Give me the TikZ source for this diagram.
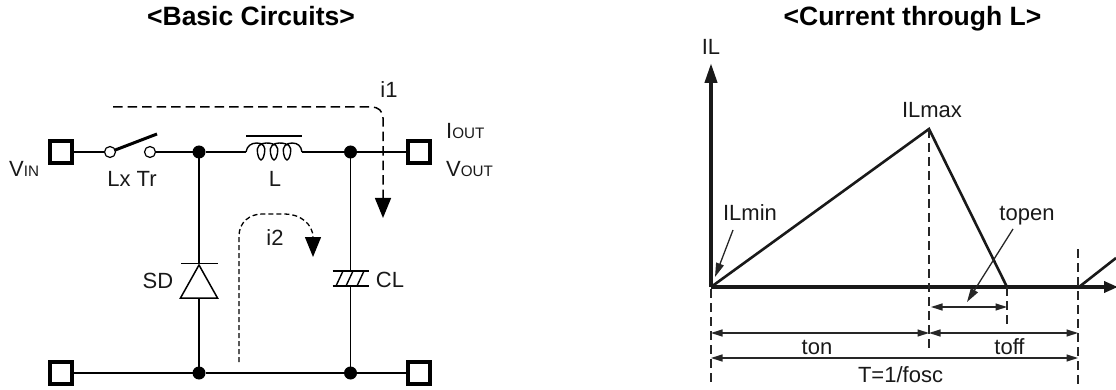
\documentclass[tikz,border=0pt]{standalone}
\usepackage{fontspec}
\setmainfont{Liberation Sans}
\usetikzlibrary{arrows.meta}
\newcommand{\sz}[2]{\fontsize{#1}{#1}\selectfont #2}
\tikzset{
  wire/.style={draw=black,line width=1.6pt},
  term/.style={draw=black,fill=white,line width=3.6pt,minimum size=22pt,inner sep=0pt,outer sep=0pt},
  dot/.style={circle,fill=black,minimum size=13pt,inner sep=0pt,outer sep=0pt},
  swc/.style={circle,draw=black,fill=white,line width=1.2pt,minimum size=11pt,inner sep=0pt,outer sep=0pt},
  lbl/.style={inner sep=0pt,anchor=base,font=\fontsize{22}{22}\selectfont,text=black!90},
  ttl/.style={inner sep=0pt,anchor=base,font=\fontsize{26.5}{26.5}\selectfont\bfseries},
  dashw/.style={draw=black,line width=1.5pt,dash pattern=on 9.5pt off 5pt},
  dashs/.style={draw=black,line width=1.3pt,dash pattern=on 5pt off 3pt},
  bigtip/.style={-{Triangle[length=20pt,width=16pt]}},
  axisl/.style={draw=black!90,line width=4pt},
  curve/.style={draw=black!90,line width=2.6pt},
  dim/.style={draw=black!85,line width=1.3pt,{Triangle[length=11.5pt,width=7pt]}-{Triangle[length=11.5pt,width=7pt]},shorten <=0pt},
  point/.style={draw=black!85,line width=1.3pt,-{Triangle[length=14pt,width=8pt]}},
  vdash/.style={draw=black!85,line width=1.2pt,dash pattern=on 9pt off 5pt},
}
\begin{document}
\begin{tikzpicture}[x=1pt,y=-1pt]
\useasboundingbox (0,0) rectangle (1116,390);
% titles
\node[ttl] (t1) at (251,25.5) {<Basic Circuits>};
\node[ttl] (t2) at (912.5,25.5) {<Current through L>};
% circuit nodes
\node[term] (vin) at (61,152) {};
\node[term] (vout) at (419,152) {};
\node[term] (gl) at (61,373) {};
\node[term] (gr) at (419,373) {};
\node[dot] (j1) at (199,152) {};
\node[dot] (j2) at (350.5,152) {};
\node[dot] (j3) at (199,373) {};
\node[dot] (j4) at (350.5,373) {};
\node[swc] (s1) at (110,152) {};
\node[swc] (s2) at (150,152) {};
\coordinate (la) at (246,152);
\coordinate (lb) at (302,152);
\coordinate (dk) at (199,263);
\coordinate (da) at (199,298);
\coordinate (c1) at (350.5,271);
\coordinate (c2) at (350.5,286);
\coordinate (swtip) at (157,134);
% wires
\draw[wire] (vin) -- (s1);
\draw[wire] (s2) -- (j1);
\draw[wire] (j1) -- (la);
\draw[wire] (lb) -- (j2);
\draw[wire] (j2) -- (vout);
\draw[wire] (gl) -- (j3);
\draw[wire] (j3) -- (j4);
\draw[wire] (j4) -- (gr);
\draw[wire] (j1) -- (dk);
\draw[wire] (da) -- (j3);
\draw[wire] (j2) -- (c1);
\draw[wire] (c2) -- (j4);
% switch lever
\draw[draw=black,line width=3pt] (s1) -- (swtip);
% inductor
\draw[draw=black,line width=1.5pt] (246,136) -- (302,136);
\draw[draw=black,line width=1.4pt] (la) .. controls (247,146) and (251,143) .. (257,143)
  .. controls (263,143) and (266,147) .. (264.5,153) .. controls (263.5,159) and (261.5,160) .. (261,160)
  .. controls (260.5,160) and (258.5,159) .. (257.5,153) .. controls (256,147) and (260,143) .. (266,143)
  .. controls (276,143) and (279,147) .. (277.5,153) .. controls (276.5,159) and (274.5,160) .. (274,160)
  .. controls (273.5,160) and (271.5,159) .. (270.5,153) .. controls (269,147) and (273,143) .. (279,143)
  .. controls (289,143) and (292,147) .. (290.5,153) .. controls (289.5,159) and (287.5,160) .. (287,160)
  .. controls (286.5,160) and (284.5,159) .. (283.5,153) .. controls (282,147) and (286,143) .. (292,143)
  .. controls (298,143) and (301,146) .. (lb);
% diode
\draw[draw=black,line width=1.5pt] (181,263.5) -- (218,263.5);
\draw[draw=black,line width=1.5pt,line join=miter] (199,265) -- (180.5,298) -- (217.5,298) -- cycle;
% capacitor
\draw[draw=black,line width=1.5pt] (332.5,271) -- (369,271) (332.5,286) -- (369,286);
\draw[draw=black,line width=1.4pt] (336,286) -- (343,271) (346,286) -- (353,271) (357,286) -- (364,271);
% current paths
\draw[dashw,bigtip] (113,107) -- (372,107) .. controls (378,107) and (383,111) .. (383,118) -- (383,218);
\draw[dashs,bigtip] (239,362) -- (239,236) .. controls (239,222) and (250,214) .. (262,214) -- (285,214) .. controls (300,214) and (313,224) .. (313,257);
% circuit labels
\node[lbl] (lsw) at (132,186) {Lx Tr};
\node[lbl] (ll) at (275,186) {L};
\node[lbl] (li1) at (389,98) {i1};
\node[lbl] (li2) at (275,245) {i2};
\node[lbl] (lsd) at (158,288) {SD};
\node[lbl] (lcl) at (390,287) {CL};
\node[lbl,anchor=base west] (liout) at (446,139) {I\sz{15.2}{OUT}};
\node[lbl,anchor=base west] (lvout) at (446,177) {V\sz{15.2}{OUT}};
\node[lbl,anchor=base west] (lvin) at (9,177) {V\sz{15.2}{IN}};
% graph coordinates
\coordinate (o) at (711,287);
\coordinate (ytop) at (711,63);
\coordinate (xend) at (1118,287);
\coordinate (pk) at (929,129);
\coordinate (z1) at (1007,287);
\coordinate (z2) at (1079,287);
\coordinate (r2) at (1116,258);
\draw[axisl,-{Triangle[length=20pt,width=12pt]}] (o) -- (ytop);
\draw[axisl,-{Triangle[length=14pt,width=11pt]}] (o) -- (xend);
\draw[curve,line join=miter] (o) -- (pk) -- (z1);
\draw[curve] (z2) -- (r2);
% guides
\coordinate (g0a) at (711,289);
\coordinate (g0b) at (711,386);
\coordinate (g1b) at (929,350);
\coordinate (g2b) at (1007,325);
\coordinate (g3a) at (1078,249);
\coordinate (g3b) at (1078,386);
\draw[vdash] (g0a) -- (g0b);
\draw[vdash] (pk) -- (g1b);
\draw[vdash] (z1) -- (g2b);
\draw[vdash] (g3a) -- (g3b);
% dimensions
\coordinate (d1l) at (711,333);
\coordinate (d1m) at (929,333);
\coordinate (d1r) at (1078,333);
\coordinate (d2l) at (711,358);
\coordinate (d2r) at (1078,358);
\coordinate (d3l) at (931,307);
\coordinate (d3r) at (1007,307);
\draw[dim] (d1l) -- (d1m);
\draw[dim] (d1m) -- (d1r);
\draw[dim] (d2l) -- (d2r);
\draw[dim] (d3l) -- (d3r);
% pointers
\coordinate (p1a) at (733,230);
\coordinate (p1b) at (715,277);
\coordinate (p2a) at (1013,229);
\coordinate (p2b) at (967,302);
\draw[point] (p1a) -- (p1b);
\draw[point] (p2a) -- (p2b);
% graph labels
\node[lbl] (lil) at (711,55) {IL};
\node[lbl] (lmax) at (932,118) {ILmax};
\node[lbl] (lmin) at (750,220) {ILmin};
\node[lbl] (lop) at (1027,220) {topen};
\node[lbl] (lon) at (817,354) {ton};
\node[lbl] (lof) at (1009.5,354) {toff};
\node[lbl] (lt) at (900.5,382) {T=1/fosc};
\end{tikzpicture}
\end{document}
